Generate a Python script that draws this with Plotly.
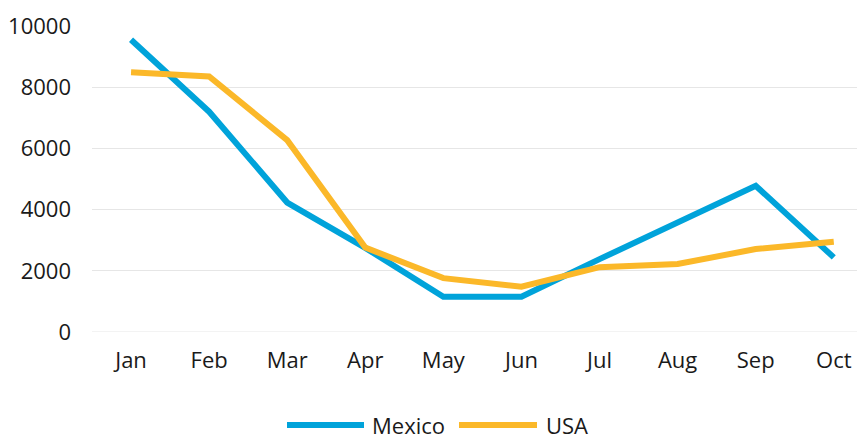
import plotly.graph_objects as go

months = ["Jan", "Feb", "Mar", "Apr", "May", "Jun", "Jul", "Aug", "Sep", "Oct"]
mexico = [9550, 7200, 4230, 2750, 1150, 1150, 2380, 3600, 4780, 2440]
usa = [8490, 8350, 6270, 2760, 1760, 1480, 2120, 2220, 2710, 2950]
y_ticks = [0, 2000, 4000, 6000, 8000, 10000]

BLUE = "#00A3DA"
ORANGE = "#FBB829"
FONT = "Open Sans"
FS = 22

# page body has an 8px margin; figure sized to fill the rest of the window
OFF = 8
W, H = 865 - OFF, 436 - OFF
L, R, T, B = 92 - OFF, 0, 26 - OFF, 436 - 332

fig = go.Figure()
fig.add_trace(go.Scatter(x=months, y=mexico, mode="lines", name="Mexico",
                         line=dict(color=BLUE, width=6)))
fig.add_trace(go.Scatter(x=months, y=usa, mode="lines", name="USA",
                         line=dict(color=ORANGE, width=6)))

fig.update_layout(
    width=W, height=H,
    margin=dict(l=L, r=R, t=T, b=B, pad=0),
    paper_bgcolor="white", plot_bgcolor="white",
    showlegend=False,
    font=dict(family=FONT, size=FS, color="#1a1a1a"),
)
fig.update_xaxes(
    type="category", range=[-0.5, 9.4],
    showgrid=False, zeroline=False, showline=False,
    ticks="", ticklabelstandoff=13,
    tickfont=dict(family=FONT, size=FS, color="#1a1a1a"),
)
fig.update_yaxes(
    range=[0, 10000], tickvals=y_ticks, ticktext=[str(v) for v in y_ticks],
    showgrid=True, gridcolor="#E6E6E6", gridwidth=1,
    zeroline=False, showline=False, ticks="", ticklabelstandoff=20,
    tickfont=dict(family=FONT, size=FS, color="#1a1a1a"),
)
fig.add_shape(type="line", xref="paper", yref="y", x0=0, x1=1, y0=0, y1=0,
              line=dict(color="#E6E6E6", width=1), layer="below")

# custom legend (positions in window pixels)
pw = W - L - R
ph = H - T - B
def px_x(x):
    return (x - OFF - L) / pw
def px_y(y):
    return (H - B - (y - OFF)) / ph

ly = 425
items = [("Mexico", BLUE, 287, 364, 370), ("USA", ORANGE, 459, 537, 544)]
for name, col, xa, xb, xt in items:
    fig.add_shape(type="line", xref="paper", yref="paper",
                  x0=px_x(xa), x1=px_x(xb), y0=px_y(ly), y1=px_y(ly),
                  line=dict(color=col, width=6))
    fig.add_annotation(xref="paper", yref="paper", x=px_x(xt), y=px_y(ly),
                       text=name, showarrow=False, xanchor="left", yanchor="middle",
                       font=dict(family=FONT, size=FS, color="#1a1a1a"))

fig.write_html("out.html")
